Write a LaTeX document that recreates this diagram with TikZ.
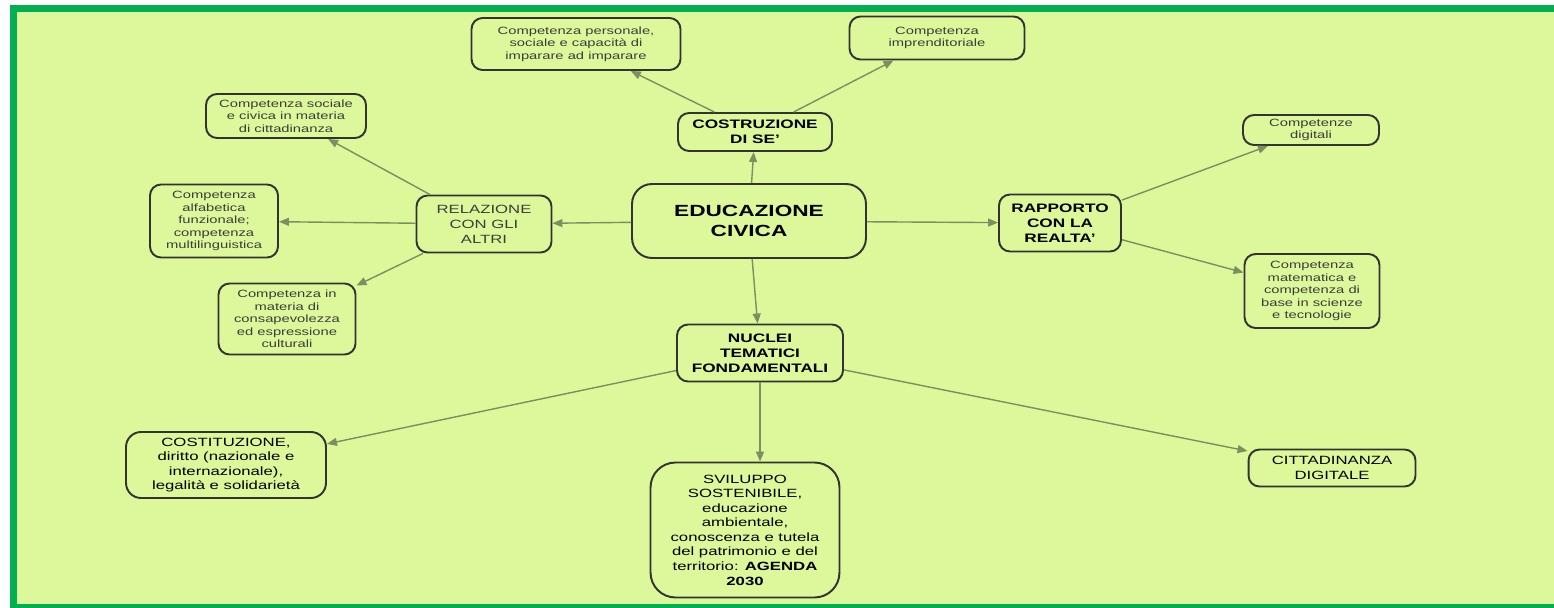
\documentclass[tikz,border=0pt]{standalone}
\usepackage{fontspec}
\setmainfont{Liberation Sans}[FakeStretch=1.4]
\usetikzlibrary{arrows.meta}

\definecolor{bggreen}{RGB}{221,248,155}
\definecolor{framegreen}{RGB}{0,176,80}
\definecolor{linkgray}{RGB}{125,142,98}
\definecolor{txtgray}{RGB}{60,60,60}

\tikzset{
  box/.style={draw=black!80,line width=1.1pt,rounded corners=0.22cm,align=center,inner sep=1pt,
    text=txtgray,font=\fontsize{6}{7.1}\selectfont},
  headbox/.style={box,text=black,font=\bfseries\fontsize{7}{8.6}\selectfont},
  topicbox/.style={box,text=black,font=\fontsize{6.8}{8.3}\selectfont},
  link/.style={draw=linkgray,line width=0.8pt,-{Triangle[length=0.2cm,width=0.16cm]}},
}

\begin{document}
\begin{tikzpicture}[x=0.02cm,y=-0.02cm]
\useasboundingbox (0,0) rectangle (1554,608);

% background and frame
\fill[white] (0,0) rectangle (1554,608);
\fill[framegreen] (10,5) rectangle (1554,608);
\fill[bggreen] (17,12) rectangle (1554,604);

% The boxes
\node (edu) at (749,221) [headbox,minimum width=4.68cm,minimum height=1.48cm,rounded corners=0.4cm,
  font=\bfseries\fontsize{9.2}{11.4}\selectfont] {EDUCAZIONE\\CIVICA};
\node (cost) at (755,132) [headbox,minimum width=3.08cm,minimum height=0.76cm] {COSTRUZIONE\\DI SE'};
\node (rel) at (484,224) [box,minimum width=2.7cm,minimum height=1.14cm,
  font=\fontsize{6.8}{8.6}\selectfont] {RELAZIONE\\CON GLI\\ALTRI};
\node (rap) at (1060,223) [headbox,minimum width=2.44cm,minimum height=1.14cm] {RAPPORTO\\CON LA\\REALTA'};
\node (nuc) at (760,353) [headbox,minimum width=3.32cm,minimum height=1.14cm] {NUCLEI\\TEMATICI\\FONDAMENTALI};

% competenze
\node (pers) at (576,44) [box,minimum width=4.18cm,minimum height=1.04cm] {Competenza personale,\\sociale e capacità di\\imparare ad imparare};
\node (impr) at (937,38) [box,minimum width=3.5cm,minimum height=0.86cm] {Competenza\\imprenditoriale};
\node (soc) at (286,116) [box,minimum width=3.2cm,minimum height=0.88cm] {Competenza sociale\\e civica in materia\\di cittadinanza};
\node (alf) at (214,221) [box,minimum width=2.56cm,minimum height=1.46cm] {Competenza\\alfabetica\\funzionale;\\competenza\\multilinguistica};
\node (cons) at (287,319) [box,minimum width=2.74cm,minimum height=1.42cm] {Competenza in\\materia di\\consapevolezza\\ed espressione\\culturali};
\node (dig) at (1311,130) [box,minimum width=2.72cm,minimum height=0.6cm] {Competenze\\digitali};
\node (mat) at (1312,291) [box,minimum width=2.7cm,minimum height=1.48cm] {Competenza\\matematica e\\competenza di\\base in scienze\\e tecnologie};

% nuclei
\node (costit) at (226,465) [topicbox,minimum width=4cm,minimum height=1.32cm,rounded corners=0.3cm] {COSTITUZIONE,\\diritto (nazionale e\\internazionale),\\legalità e solidarietà};
\node (svil) at (745,530) [topicbox,minimum width=3.78cm,minimum height=2.7cm,rounded corners=0.5cm] {SVILUPPO\\SOSTENIBILE,\\educazione\\ambientale,\\conoscenza e tutela\\del patrimonio e del\\territorio: \textbf{AGENDA}\\\textbf{2030}};
\node (citt) at (1332,468) [topicbox,minimum width=3.34cm,minimum height=0.74cm] {CITTADINANZA\\DIGITALE};

% arrows from the centre
\draw[link] (edu) -- (cost);
\draw[link] (edu) -- (rel);
\draw[link] (edu) -- (rap);
\draw[link] (edu) -- (nuc);

% arrows to the competenze
\draw[link] (cost) -- (pers);
\draw[link] (cost) -- (impr);
\draw[link] (rel) -- (soc);
\draw[link] (rel) -- (alf);
\draw[link] (rel) -- (cons);
\draw[link] (rap) -- (dig);
\draw[link] (rap) -- (mat);

% arrows to the nuclei
\draw[link] (nuc) -- (costit);
\draw[link] (nuc.south) -- (nuc.south |- svil.north);
\draw[link] (nuc) -- (citt);

\end{tikzpicture}
\end{document}
